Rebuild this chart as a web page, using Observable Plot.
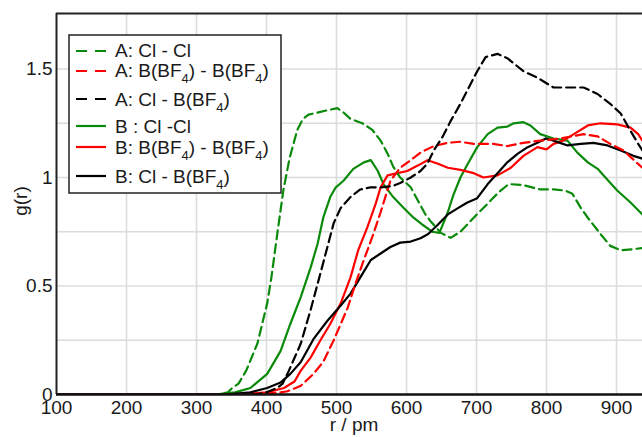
<!DOCTYPE html>
<html><head><meta charset="utf-8">
<script src="https://cdn.jsdelivr.net/npm/d3@7"></script>
<script src="https://cdn.jsdelivr.net/npm/@observablehq/plot@0.6"></script>
<style>
body{margin:0;background:#fff;}
#chart svg{display:block;}
</style>
</head><body><div id="chart"></div>
<script>
// ---- data (r in pm, g(r)) ----
const r_A_ClCl = [100, 330, 345, 351, 360, 371, 387, 401, 407, 416, 424, 433, 444, 452, 460, 467, 487, 501, 510, 520, 537, 551, 563, 573, 581, 591, 606, 616, 627, 634, 649, 663, 677, 696, 716, 731, 746, 767, 791, 810, 827, 837, 849, 860, 877, 891, 906, 924, 937];
const g_A_ClCl = [0, 0, 0.01, 0.03, 0.05, 0.11, 0.235, 0.42, 0.54, 0.755, 0.94, 1.09, 1.22, 1.27, 1.29, 1.295, 1.31, 1.32, 1.30, 1.27, 1.25, 1.22, 1.17, 1.11, 1.05, 1.0, 0.955, 0.895, 0.83, 0.80, 0.745, 0.722, 0.75, 0.815, 0.88, 0.93, 0.97, 0.965, 0.945, 0.945, 0.94, 0.925, 0.86, 0.81, 0.74, 0.685, 0.665, 0.67, 0.675];

const r_A_BB = [100, 370, 400, 420, 430, 449, 467, 481, 496, 506, 516, 527, 539, 551, 563, 577, 591, 606, 620, 639, 659, 677, 696, 724, 744, 767, 791, 820, 853, 873, 891, 910, 930, 937];
const g_A_BB = [0, 0, 0.005, 0.01, 0.015, 0.04, 0.095, 0.15, 0.25, 0.325, 0.40, 0.51, 0.62, 0.725, 0.84, 0.985, 1.045, 1.08, 1.115, 1.145, 1.16, 1.165, 1.155, 1.155, 1.145, 1.16, 1.17, 1.18, 1.2, 1.19, 1.155, 1.125, 1.065, 1.045];

const r_A_ClB = [100, 385, 400, 415, 423, 432, 449, 463, 473, 487, 496, 506, 520, 534, 549, 563, 580, 591, 606, 620, 630, 639, 651, 663, 677, 689, 701, 713, 730, 744, 767, 787, 810, 830, 853, 873, 891, 906, 920, 931, 937];
const g_A_ClB = [0, 0, 0.01, 0.03, 0.05, 0.11, 0.235, 0.39, 0.51, 0.68, 0.79, 0.86, 0.91, 0.945, 0.955, 0.955, 0.96, 0.975, 1.0, 1.03, 1.065, 1.125, 1.185, 1.26, 1.34, 1.415, 1.49, 1.555, 1.57, 1.55, 1.49, 1.46, 1.415, 1.415, 1.415, 1.385, 1.34, 1.295, 1.215, 1.155, 1.125];

const r_B_ClCl = [100, 325, 355, 377, 401, 420, 434, 449, 463, 473, 481, 491, 499, 510, 524, 539, 549, 559, 567, 581, 596, 610, 624, 637, 647, 659, 667, 677, 687, 701, 716, 730, 744, 753, 767, 777, 791, 810, 830, 844, 859, 873, 887, 901, 920, 937];
const g_B_ClCl = [0, 0, 0.01, 0.03, 0.095, 0.2, 0.325, 0.45, 0.585, 0.695, 0.815, 0.91, 0.955, 0.985, 1.04, 1.07, 1.08, 1.03, 0.97, 0.91, 0.86, 0.815, 0.78, 0.75, 0.745, 0.84, 0.92, 1.0, 1.06, 1.14, 1.2, 1.23, 1.235, 1.25, 1.255, 1.24, 1.2, 1.18, 1.17, 1.115, 1.07, 1.04, 0.99, 0.94, 0.885, 0.83];

const r_B_BB = [100, 360, 400, 425, 440, 449, 463, 477, 491, 506, 520, 531, 544, 556, 563, 573, 587, 601, 616, 630, 644, 659, 677, 696, 710, 730, 749, 767, 787, 800, 810, 824, 839, 859, 877, 901, 920, 931, 937];
const g_B_BB = [0, 0, 0.01, 0.03, 0.06, 0.11, 0.17, 0.25, 0.325, 0.42, 0.54, 0.665, 0.77, 0.88, 0.955, 1.01, 1.02, 1.03, 1.055, 1.08, 1.065, 1.045, 1.035, 1.02, 1.0, 1.01, 1.045, 1.10, 1.14, 1.13, 1.155, 1.17, 1.2, 1.24, 1.25, 1.245, 1.23, 1.2, 1.17];

const r_B_ClB = [100, 340, 377, 401, 420, 434, 449, 467, 487, 506, 520, 534, 549, 563, 577, 591, 606, 620, 631, 644, 659, 674, 687, 701, 716, 730, 744, 759, 773, 787, 799, 810, 830, 849, 867, 887, 906, 924, 937];
const g_B_ClB = [0, 0, 0.01, 0.03, 0.055, 0.095, 0.15, 0.255, 0.34, 0.41, 0.465, 0.54, 0.62, 0.65, 0.68, 0.70, 0.705, 0.72, 0.74, 0.78, 0.83, 0.86, 0.885, 0.905, 0.97, 1.02, 1.07, 1.11, 1.14, 1.16, 1.18, 1.17, 1.148, 1.155, 1.16, 1.148, 1.125, 1.10, 1.087];

// legend labels: alternating normal / subscript parts
const labels = [
  ["A: Cl - Cl"],
  ["A: B(BF", "4", ") - B(BF", "4", ")"],
  ["A: Cl - B(BF", "4", ")"],
  ["B : Cl -Cl"],
  ["B: B(BF", "4", ") - B(BF", "4", ")"],
  ["B: Cl - B(BF", "4", ")"]
];

const xTicks = [100, 200, 300, 400, 500, 600, 700, 800, 900];
const xGridVals = [200, 300, 400, 500, 600, 700, 800, 900];
const yTicks = [0, 0.5, 1, 1.5];
const yGridVals = [0.25, 0.5, 0.75, 1, 1.25, 1.5];
const xDomain = [100, 937.1];
const yDomain = [0, 1.756];

// ---- styling ----
const GREEN = "#0a8a0a", RED = "#ff0000", BLACK = "#000000";
const DASH = "9,5";
const FONT = "'Liberation Sans', Arial, Helvetica, sans-serif";

const series = [
  {r: r_A_ClCl, g: g_A_ClCl, color: GREEN, dash: DASH},
  {r: r_A_BB,   g: g_A_BB,   color: RED,   dash: DASH},
  {r: r_A_ClB,  g: g_A_ClB,  color: BLACK, dash: DASH},
  {r: r_B_ClCl, g: g_B_ClCl, color: GREEN, dash: null},
  {r: r_B_BB,   g: g_B_BB,   color: RED,   dash: null},
  {r: r_B_ClB,  g: g_B_ClB,  color: BLACK, dash: null}
];
series.forEach((s, i) => { s.label = labels[i]; s.data = s.r.map((r, j) => ({r, g: s.g[j]})); });

const lineMarks = series.map(s => Plot.line(s.data, {
  x: "r", y: "g", stroke: s.color, strokeWidth: 2.2,
  strokeDasharray: s.dash || undefined, clip: true
}));

const chart = Plot.plot({
  width: 642, height: 437,
  marginLeft: 56, marginRight: 0, marginTop: 13, marginBottom: 43,
  style: {fontFamily: FONT, fontSize: "19px", color: "#1a1a1a", background: "#fff"},
  x: {domain: xDomain},
  y: {domain: yDomain},
  marks: [
    Plot.gridX(xGridVals, {stroke: "#dcdcdc", strokeOpacity: 1, strokeWidth: 1.6}),
    Plot.gridY(yGridVals, {stroke: "#dcdcdc", strokeOpacity: 1, strokeWidth: 1.6}),
    ...lineMarks.slice(3),
    ...lineMarks.slice(0, 3),
    Plot.ruleX([xDomain[0]], {stroke: "#222", strokeWidth: 2}),
    Plot.ruleY([yDomain[1]], {stroke: "#222", strokeWidth: 2}),
    Plot.ruleY([yDomain[0]], {stroke: "#111", strokeWidth: 2.5}),
    Plot.axisX(xTicks, {tickSize: 0, tickPadding: 6, label: null, tickFormat: d => String(d)}),
    Plot.axisY(yTicks, {tickSize: 0, tickPadding: 4, label: null, tickFormat: d => String(d)})
  ]
});
document.getElementById("chart").appendChild(chart);

// ---- axis titles & legend ----
const svg = d3.select(chart);
svg.append("text")
  .attr("transform", "translate(27,201) rotate(-90)")
  .attr("text-anchor", "middle").attr("font-family", FONT).attr("font-size", 19)
  .attr("fill", "#1a1a1a").text("g(r)");
svg.append("text")
  .attr("x", 354).attr("y", 431)
  .attr("text-anchor", "middle").attr("font-family", FONT).attr("font-size", 19)
  .attr("fill", "#1a1a1a").text("r / pm");

const lg = svg.append("g").attr("font-family", FONT).attr("font-size", 19)
  .attr("fill", "#1a1a1a").attr("text-anchor", "start");
lg.append("rect").attr("x", 69).attr("y", 35).attr("width", 212).attr("height", 158)
  .attr("fill", "#fff").attr("stroke", "#222").attr("stroke-width", 1.5);
const lineY = [51, 71, 99, 126, 147, 176];
const baseY = [57, 77, 106, 133, 154, 183];
series.forEach((s, i) => {
  lg.append("line").attr("x1", 76).attr("x2", 106).attr("y1", lineY[i]).attr("y2", lineY[i])
    .attr("stroke", s.color).attr("stroke-width", 2.2)
    .attr("stroke-dasharray", s.dash ? "11,8" : null);
  const t = lg.append("text").attr("x", 115).attr("y", baseY[i]).attr("text-anchor", "start");
  s.label.forEach((part, k) => {
    const sub = k % 2 === 1;
    const ts = t.append("tspan").text(part);
    if (sub) ts.attr("font-size", 13).attr("dy", 6);
    else if (k > 0) ts.attr("dy", -6);
  });
});
</script></body></html>
